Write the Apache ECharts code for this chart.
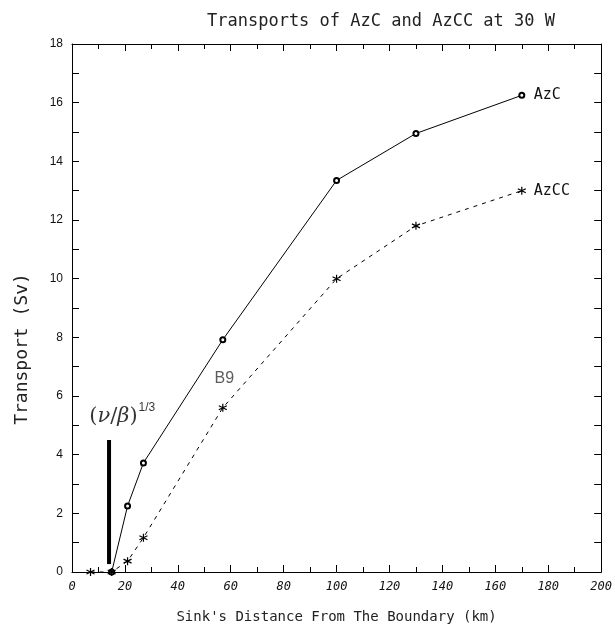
<!DOCTYPE html>
<html>
<head>
<meta charset="utf-8">
<script src="https://cdn.jsdelivr.net/npm/echarts@6/dist/echarts.min.js"></script>
<style>html,body{margin:0;padding:0;background:#fff}#c{width:615px;height:633px}</style>
</head>
<body>
<div id="c"></div>
<script>
// Data (distance in km, transport in Sv)
const azcX = [15, 21, 27, 57, 100, 130, 170];
const azcY = [0, 2.25, 3.72, 7.92, 13.35, 14.95, 16.25];
const azccX = [7, 15, 21, 27, 57, 100, 130, 170];
const azccY = [0, 0, 0.37, 1.17, 5.6, 10.0, 11.8, 13.0];
const barX = [14, 14];
const barY = [0.27, 4.5];
const xTicks = [0, 20, 40, 60, 80, 100, 120, 140, 160, 180, 200];
const yTicks = [0, 2, 4, 6, 8, 10, 12, 14, 16, 18];

const zip = (a, b) => a.map((v, i) => [v, b[i]]);
const asterisk = 'path://M0,-5L0,5M-4.3,-2.5L4.3,2.5M-4.3,2.5L4.3,-2.5';
const mono = 'DejaVu Sans Mono';

const chart = echarts.init(document.getElementById('c'), null, {renderer: 'canvas'});

const axisCommon = {
  type: 'value',
  axisLine: {show: true, onZero: false, lineStyle: {color: '#000', width: 1}},
  axisTick: {show: true, inside: true, length: 7, lineStyle: {color: '#000'}},
  minorTick: {show: true, splitNumber: 2, length: 5, lineStyle: {color: '#000'}},
  splitLine: {show: false}
};

chart.setOption({
  animation: false,
  backgroundColor: '#fff',
  title: {
    text: 'Transports of AzC and AzCC at 30 W',
    left: 376, top: 8, textAlign: 'center',
    textStyle: {fontFamily: mono, fontSize: 17, fontWeight: 'normal', color: '#222'}
  },
  grid: {left: 72, right: 12, top: 44, bottom: 61},
  graphic: [{
    type: 'text', x: 22, y: 349, rotation: Math.PI / 2,
    style: {text: 'Transport (Sv)', align: 'center', verticalAlign: 'middle',
      font: '18px "DejaVu Sans Mono"', fill: '#222'}
  }],
  xAxis: [
    Object.assign({}, axisCommon, {
      min: 0, max: 200, interval: 20, position: 'bottom',
      axisLabel: {show: true, margin: 9, color: '#111', fontFamily: mono, fontStyle: 'italic', fontSize: 12,
        formatter: v => xTicks.includes(v) ? String(v) : ''},
      name: "Sink's Distance From The Boundary (km)",
      nameLocation: 'middle', nameGap: 38,
      nameTextStyle: {fontFamily: mono, fontSize: 14, color: '#222'}
    }),
    Object.assign({}, axisCommon, {
      min: 0, max: 200, interval: 20, position: 'top',
      axisLabel: {show: false}
    })
  ],
  yAxis: [
    Object.assign({}, axisCommon, {
      min: 0, max: 18, interval: 2, position: 'left',
      minorTick: {show: true, splitNumber: 2, length: 7, lineStyle: {color: '#000'}},
      axisLabel: {show: true, margin: 9, color: '#111', fontFamily: 'Liberation Sans', fontSize: 12,
        formatter: v => yTicks.includes(v) ? String(v) : ''}
    }),
    Object.assign({}, axisCommon, {
      min: 0, max: 18, interval: 2, position: 'right',
      minorTick: {show: true, splitNumber: 2, length: 7, lineStyle: {color: '#000'}},
      axisLabel: {show: false}
    })
  ],
  series: [
    {
      name: 'AzC', type: 'line', xAxisIndex: 0, yAxisIndex: 0,
      data: zip(azcX, azcY),
      symbol: 'emptyCircle', symbolSize: 5, showAllSymbol: true,
      lineStyle: {color: '#000', width: 1, type: 'solid'},
      itemStyle: {color: '#000', borderColor: '#000', borderWidth: 1},
      endLabel: {show: true, formatter: 'AzC', distance: 12, color: '#111',
        fontFamily: mono, fontSize: 15}
    },
    {
      name: 'AzCC', type: 'line', xAxisIndex: 0, yAxisIndex: 0,
      data: zip(azccX, azccY),
      symbol: asterisk, symbolSize: 8, showAllSymbol: true,
      lineStyle: {color: '#000', width: 1, type: [4, 5]},
      itemStyle: {color: 'none', borderColor: '#000', borderWidth: 1.2},
      endLabel: {show: true, formatter: 'AzCC', distance: 12, color: '#111',
        fontFamily: mono, fontSize: 15}
    },
    {
      name: 'scale', type: 'line', xAxisIndex: 0, yAxisIndex: 0,
      data: zip(barX, barY), symbol: 'none',
      lineStyle: {color: '#000', width: 4}
    },
    {
      name: 'notes', type: 'scatter', xAxisIndex: 0, yAxisIndex: 0,
      symbolSize: 0, silent: true,
      data: [
        {value: [57.6, 6.58], label: {show: true, position: 'inside', formatter: 'B9',
          color: '#333', fontFamily: 'Liberation Sans', fontSize: 16}},
        {value: [19, 5.3], label: {show: true, position: 'inside',
          formatter: '{p|(}{g|ν}{p|/}{g|β}{p|)}{s|1/3}',
          rich: {
            p: {fontFamily: 'DejaVu Serif', fontSize: 21, color: '#000'},
            g: {fontFamily: 'DejaVu Serif', fontStyle: 'italic', fontSize: 21, color: '#000'},
            s: {fontFamily: 'Liberation Sans', fontSize: 12, color: '#000', verticalAlign: 'top', padding: [0, 0, 18, 1]}
          }}}
      ]
    }
  ]
});
</script>
</body>
</html>
